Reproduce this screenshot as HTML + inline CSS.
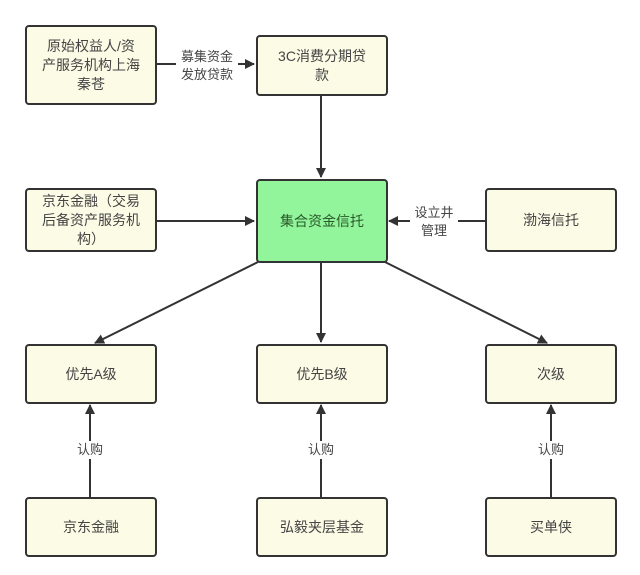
<!DOCTYPE html>
<html><head><meta charset="utf-8"><style>
body{margin:0;background:#fff;width:640px;height:575px;overflow:hidden}
.b{position:absolute;box-sizing:border-box;border:2px solid #333;border-radius:4px;background:#fbfbe6;display:flex;align-items:center;justify-content:center;text-align:center;font:14px/19px "Liberation Sans","Noto Sans CJK SC",sans-serif;color:#444;padding:0 14px}
.l{position:absolute;font:13px/18px "Liberation Sans","Noto Sans CJK SC",sans-serif;color:#444;background:#fff;text-align:center}
</style></head><body>
<svg width="640" height="575" style="position:absolute;left:0;top:0">
<defs><marker id="a" markerWidth="10" markerHeight="10" refX="9" refY="5" orient="auto" markerUnits="userSpaceOnUse"><path d="M0,0 L10,5 L0,10 z" fill="#333"/></marker></defs>
<g stroke="#333" stroke-width="2" fill="none" marker-end="url(#a)">
<line x1="156" y1="64" x2="254" y2="64"/>
<line x1="321" y1="95" x2="321" y2="177"/>
<line x1="156" y1="221" x2="254" y2="221"/>
<line x1="486" y1="221" x2="389" y2="221"/>
<line x1="258" y1="262" x2="95" y2="343"/>
<line x1="321" y1="262" x2="321" y2="342"/>
<line x1="385" y1="262" x2="547" y2="343"/>
<line x1="90" y1="497" x2="90" y2="405"/>
<line x1="321" y1="497" x2="321" y2="405"/>
<line x1="551" y1="497" x2="551" y2="405"/>
</g></svg>
<div class="b" style="left:25px;top:25px;width:132px;height:80px">原始权益人/资产服务机构上海秦苍</div>
<div class="b" style="left:256px;top:35px;width:132px;height:61px">3C消费分期贷款</div>
<div class="b" style="left:256px;top:179px;width:132px;height:84px;background:#92f59c;color:#2a5a2a">集合资金信托</div>
<div class="b" style="left:25px;top:188px;width:132px;height:64px;padding:0 12px">京东金融（交易后备资产服务机构）</div>
<div class="b" style="left:485px;top:188px;width:132px;height:64px">渤海信托</div>
<div class="b" style="left:25px;top:344px;width:132px;height:60px">优先A级</div>
<div class="b" style="left:256px;top:344px;width:132px;height:60px">优先B级</div>
<div class="b" style="left:485px;top:344px;width:132px;height:60px">次级</div>
<div class="b" style="left:25px;top:497px;width:132px;height:60px">京东金融</div>
<div class="b" style="left:256px;top:497px;width:132px;height:60px">弘毅夹层基金</div>
<div class="b" style="left:485px;top:497px;width:132px;height:60px">买单侠</div>
<div class="l" style="left:176px;top:48px;width:62px">募集资金发放贷款</div>
<div class="l" style="left:410px;top:204px;width:48px">设立井管理</div>
<div class="l" style="left:74px;top:441px;width:32px">认购</div>
<div class="l" style="left:305px;top:441px;width:32px">认购</div>
<div class="l" style="left:535px;top:441px;width:32px">认购</div>
</body></html>
